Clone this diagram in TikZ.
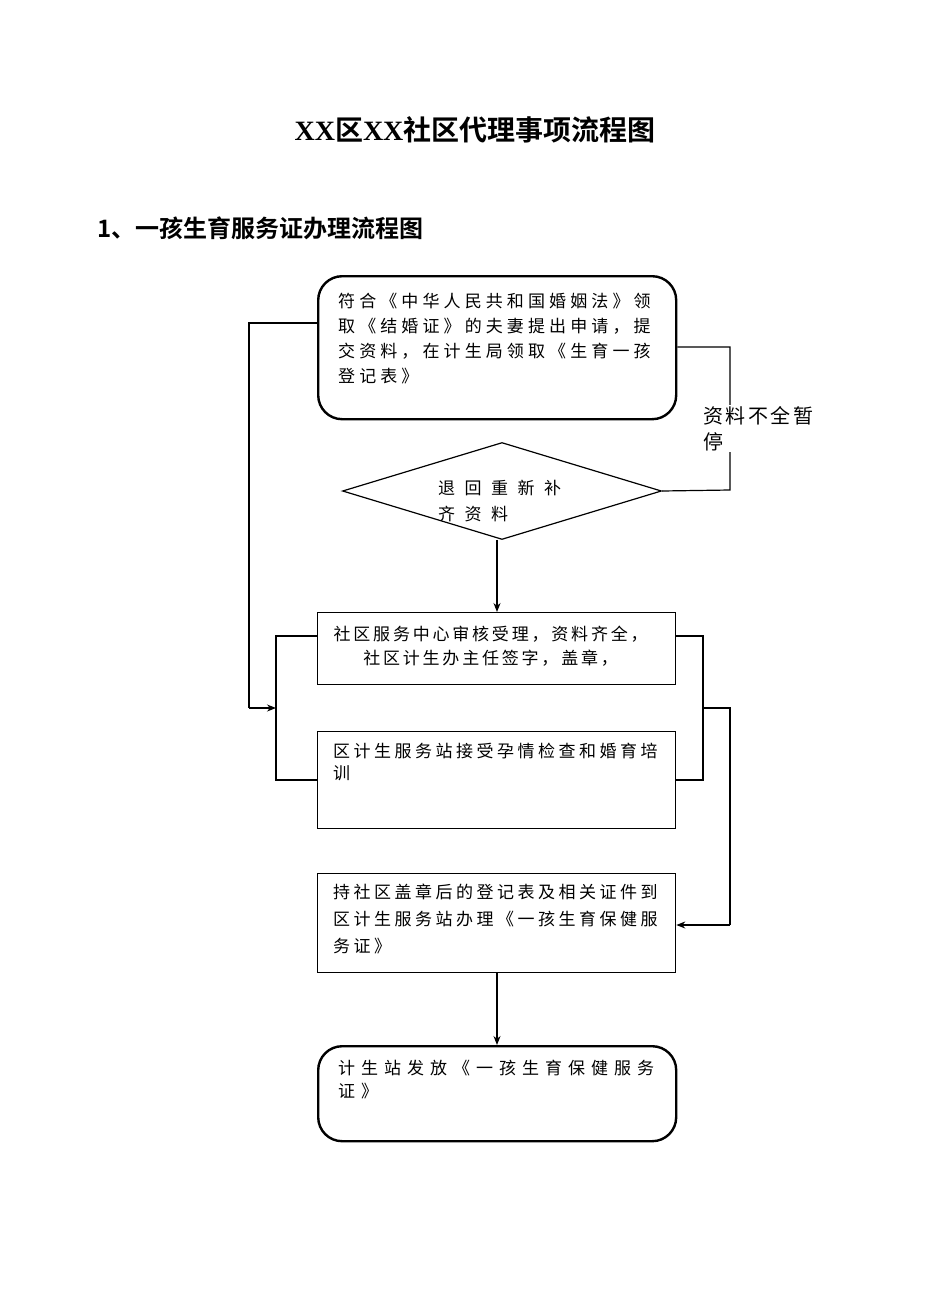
\documentclass[tikz,border=0pt]{standalone}
\usepackage{fontspec}
\usetikzlibrary{shapes.geometric,arrows.meta}
\setmainfont{Liberation Serif}
\newfontfamily\cjk{Noto Sans CJK SC}
\newfontfamily\cjkb{Noto Sans CJK SC Bold}
\newlength\mypitch
\def\myspr#1{\ifx#1\relax\else\makebox[\mypitch][l]{#1}\expandafter\myspr\fi}
\newcommand\myline[2]{\setlength\mypitch{#1pt}\hbox{\myspr#2\relax}}
\begin{document}
\begin{tikzpicture}[x=1pt,y=-1pt,
  box/.style={draw,line width=1.3pt,minimum width=358pt,anchor=north west,inner sep=0},
  rbox/.style={box,rounded corners=24pt,line width=2.4pt},
  txt/.style={anchor=north west,inner sep=0,font=\cjk\fontsize{17}{17}\selectfont,align=left},
  ln/.style={line width=1.2pt},
  arr/.style={ln,-{Stealth[length=9pt,width=7pt]}}]
\useasboundingbox (0,0) rectangle (950,1316);
\node[font=\cjkb\fontsize{28}{28}\selectfont] (title) at (475,130) {{\bfseries\rmfamily XX}区{\bfseries\rmfamily XX}社区代理事项流程图};
\node[anchor=west,inner sep=0,font=\cjkb\fontsize{24}{24}\selectfont] (head) at (97,228) {1、一孩生育服务证办理流程图};

\node[rbox,minimum height=143pt] (b1) at (317,275) {};
\node[txt] (t1) at (338,293) {\myline{21.1}{符合《中华人民共和国婚姻法》领}\\[8pt]\myline{21.1}{取《结婚证》的夫妻提出申请，提}\\[8pt]\myline{21.1}{交资料，在计生局领取《生育一孩}\\[8pt]\myline{21.1}{登记表》}};

\node[draw,ln,diamond,minimum width=319pt,minimum height=97pt,inner sep=0] (d) at (502,491) {};
\node[txt] (td) at (438,480) {\myline{26.5}{退回重新补}\\[9pt]\myline{26.5}{齐资料}};

\node[box,minimum height=72pt] (b2) at (317,612) {};
\node[txt,anchor=north,align=center] (t2) at (492,626) {\myline{19.8}{社区服务中心审核受理，资料齐全，}\\[7pt]\myline{19.8}{社区计生办主任签字，盖章，}};

\node[box,minimum height=97pt] (b3) at (317,731) {};
\node[txt] (t3) at (333,743) {\myline{20.5}{区计生服务站接受孕情检查和婚育培}\\[5pt]\myline{20.5}{训}};

\node[box,minimum height=99pt] (b4) at (317,873) {};
\node[txt] (t4) at (333,884) {\myline{20.5}{持社区盖章后的登记表及相关证件到}\\[10pt]\myline{20.5}{区计生服务站办理《一孩生育保健服}\\[10pt]\myline{20.5}{务证》}};

\node[rbox,minimum height=95pt] (b5) at (317,1045) {};
\node[txt] (t5) at (338,1060) {\myline{23}{计生站发放《一孩生育保健服务}\\[6pt]\myline{23}{证》}};

\coordinate (r1) at (730,347);
\coordinate (r2) at (730,490);
\draw[ln] (b1.east |- r1) -- (r1) -- (r2) -- (d.east);
\node[anchor=north west,fill=white,inner sep=1pt,font=\cjk\fontsize{20}{20}\selectfont,align=left] (lab) at (702,405) {\myline{22.5}{资料不全暂}\\[6pt]\myline{22.5}{停}};

\coordinate (l1) at (249,323);
\coordinate (l2) at (249,708);
\coordinate (l3) at (276,708);
\draw[ln] (b1.west |- l1) -- (l1) -- (l2);
\draw[arr] (l2) -- (l3);

\coordinate (a1) at (497,540);
\coordinate (a2) at (497,612);
\draw[arr] (a1) -- (a2);

\coordinate (bl1) at (276,636);
\coordinate (bl2) at (276,780);
\draw[ln] (b2.west |- bl1) -- (bl1) -- (bl2) -- (b3.west |- bl2);
\coordinate (br1) at (703,636);
\coordinate (br2) at (703,780);
\draw[ln] (b2.east |- br1) -- (br1) -- (br2) -- (b3.east |- br2);
\coordinate (m1) at (703,708);
\coordinate (m2) at (730,708);
\coordinate (m3) at (730,925);
\draw[ln] (m1) -- (m2) -- (m3);
\draw[arr] (m3) -- (b4.east |- m3);

\coordinate (a3) at (497,972);
\coordinate (a4) at (497,1045);
\draw[arr] (a3) -- (a4);
\end{tikzpicture}
\end{document}
